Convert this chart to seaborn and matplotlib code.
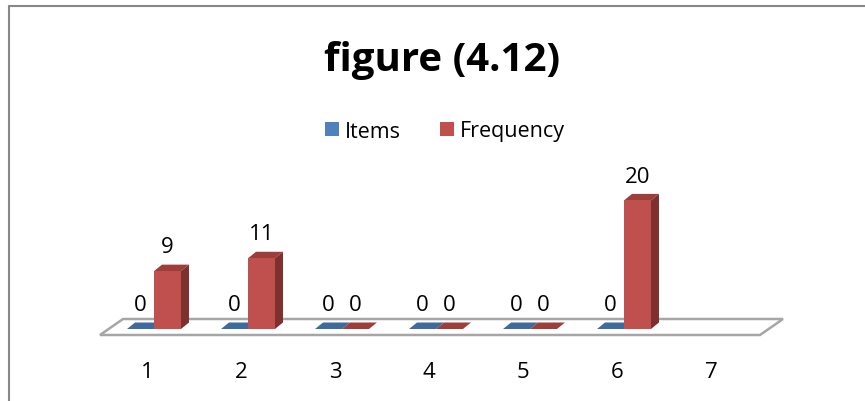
"""
figure (4.12) - Excel-style 3D clustered column chart redrawn with seaborn
"""
import numpy as np
import pandas as pd
import matplotlib
matplotlib.use("Agg")
import matplotlib.pyplot as plt
import matplotlib.transforms as mtransforms
from matplotlib.colors import to_hex
from matplotlib.patches import Polygon, Patch
from matplotlib.lines import Line2D
import seaborn as sns

# data
categories = ["1", "2", "3", "4", "5", "6", "7"]
items = [0, 0, 0, 0, 0, 0, np.nan]
frequency = [9, 11, 0, 0, 0, 20, np.nan]
series_names = ["Items", "Frequency"]
title = "figure (4.12)"

colors = {"Items": "#4F81BD", "Frequency": "#C0504D"}
top_colors = {"Items": "#3F6A9E", "Frequency": "#9E3E3B"}
side_colors = {"Items": "#30527E", "Frequency": "#7E302E"}

df = pd.DataFrame({
    "cat": categories * 2,
    "series": [series_names[0]] * len(categories) + [series_names[1]] * len(categories),
    "value": items + frequency,
})

W, H = 865, 402
sns.set_theme(style="white")
plt.rcParams["font.family"] = ["Open Sans", "DejaVu Sans"]
plt.rcParams["text.color"] = "black"
plt.rcParams["xtick.color"] = "black"

fig = plt.figure(figsize=(W / 100, H / 100), dpi=100)

# pixel geometry (from top-left) of the reference
px_unit = 6.43      # px per value unit
cat_step = 94.0     # px between categories
x0_px = 154.0       # centre of first category
base_px = 330.0     # y of value 0
floor_px = 336.0    # front edge of the floor

ax_bottom = (H - floor_px) / H
ax = fig.add_axes([0, ax_bottom, 1, 1 - ax_bottom])
ax.set_facecolor("none")

sns.barplot(data=df, x="cat", y="value", hue="series", order=categories,
            hue_order=series_names, palette=colors, saturation=1,
            width=0.574, legend=False, errorbar=None, ax=ax,
            edgecolor="none", linewidth=0)

ax.set_xlim(-x0_px / cat_step, (W - x0_px) / cat_step)
ax.set_ylim((base_px - floor_px) / px_unit, base_px / px_unit)

# depth offset of the 3D look, in data units
dx = 8.0 / cat_step
dy = 6.5 / px_unit

# floor
fdx = 23.0 / cat_step
fdy = 16.0 / px_unit
f_left = (100 - x0_px) / cat_step
f_right = (760 - x0_px) / cat_step
f_front = (base_px - floor_px) / px_unit
floor = Polygon([(f_left, f_front), (f_right, f_front),
                 (f_right + fdx, f_front + fdy), (f_left + fdx, f_front + fdy)],
                closed=True, facecolor="white", edgecolor="#A6A6A6",
                linewidth=1.8, zorder=0.5, clip_on=False)

bars = list(ax.patches)
ax.add_patch(floor)

# series of each bar from its fill colour
by_color = {to_hex(c).lower(): s for s, c in colors.items()}
for p in bars:
    h = p.get_height()
    if np.isnan(h):
        continue
    s = by_color.get(to_hex(p.get_facecolor()).lower(), series_names[0])
    x = p.get_x()
    w = p.get_width()
    p.set_zorder(1)
    top = Polygon([(x, h), (x + w, h), (x + w + dx, h + dy), (x + dx, h + dy)],
                  facecolor=top_colors[s], edgecolor="none", zorder=0.9)
    side = Polygon([(x + w, 0), (x + w + dx, dy), (x + w + dx, h + dy), (x + w, h)],
                   facecolor=side_colors[s], edgecolor="none", zorder=0.9)
    ax.add_patch(top)
    ax.add_patch(side)
    ax.annotate(f"{int(h)}", (x + w / 2, h), xytext=(0, 17.5),
                textcoords="offset points", ha="center", va="center",
                fontsize=16, color="black")

# axis look
sns.despine(ax=ax, left=True, bottom=True, top=True, right=True)
ax.set_yticks([])
ax.set_xlabel("")
ax.set_ylabel("")
ax.set_xticks(range(len(categories)))
ax.set_xticklabels(categories, fontsize=16, color="black")
ax.tick_params(axis="x", length=0, pad=18.5)
shift = mtransforms.ScaledTranslation(-7 / 100, 0, fig.dpi_scale_trans)
for lab in ax.get_xticklabels():
    lab.set_transform(lab.get_transform() + shift)

# title and legend
fig.text(442 / W, 1 - 61 / H, title, ha="center", va="center",
         fontsize=29, fontweight="bold", color="black")
handles = [Patch(facecolor=colors[s], edgecolor="none") for s in series_names]
fig.legend(handles, series_names, loc="center", bbox_to_anchor=(445 / W, 1 - 132 / H),
           ncol=2, frameon=False, fontsize=15.5, handlelength=0.65,
           handleheight=0.65, handletextpad=0.3, columnspacing=1.8,
           labelcolor="black")

# chart border (top and left edges visible)
fig.add_artist(Line2D([9 / W, 9 / W], [0, 1 - 7 / H], color="#888888", linewidth=1.5))
fig.add_artist(Line2D([9 / W, 1], [1 - 7 / H, 1 - 7 / H], color="#888888", linewidth=1.5))

fig.savefig("out.png", dpi=100)
